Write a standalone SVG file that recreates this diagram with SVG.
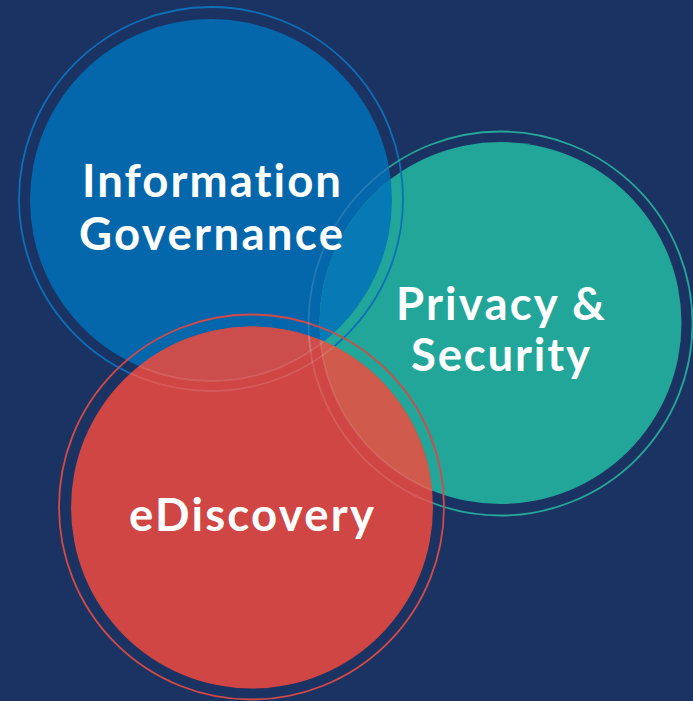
<svg xmlns="http://www.w3.org/2000/svg" width="693" height="701" viewBox="0 0 693 701">
  <defs>
    <clipPath id="clipBlue"><circle cx="211" cy="200" r="181"/></clipPath>
    <clipPath id="clipGreen"><circle cx="500.5" cy="323" r="181"/></clipPath>
    <clipPath id="clipRed"><circle cx="252" cy="507.5" r="181"/></clipPath>
    <style>
      .label { font-family: "Lato", "Open Sans", "Liberation Sans", sans-serif; font-weight: 700; font-size: 45.5px; fill: #ffffff; text-anchor: middle; font-variant-ligatures: none; font-feature-settings: "liga" 0; }
      .ring { fill: none; stroke-width: 1.8; }
      .faint { fill: none; stroke: #ffffff; stroke-opacity: 0.12; stroke-width: 1.8; }
    </style>
  </defs>

  <rect width="693" height="701" fill="#1b3363"/>

  <!-- rings that sit beneath the discs -->
  <g id="rings-under">
    <circle class="ring" cx="211" cy="199" r="192" stroke="#0c6fb8"/>
    <circle class="ring" cx="500.5" cy="323.5" r="192" stroke="#25a79a"/>
  </g>

  <g id="information-governance">
    <circle cx="211" cy="200" r="181" fill="#0567ab"/>
  </g>

  <g id="privacy-security">
    <circle cx="500.5" cy="323" r="181" fill="#22a699"/>
    <!-- blue ring showing over the green disc -->
    <circle class="ring" cx="211" cy="199" r="192" stroke="#0c6fb8" clip-path="url(#clipGreen)"/>
    <!-- blue / green overlap -->
    <circle cx="500.5" cy="323" r="181" fill="#0779b5" clip-path="url(#clipBlue)"/>
  </g>

  <g id="ediscovery">
    <circle cx="252" cy="507.5" r="181" fill="#cf4644"/>
    <circle cx="211" cy="200" r="181" fill="#cb4e4c" clip-path="url(#clipRed)"/>
    <circle cx="500.5" cy="323" r="181" fill="#d05a4c" clip-path="url(#clipRed)"/>
    <circle class="ring" cx="251.5" cy="507" r="192.5" stroke="#d44a46"/>
  </g>

  <!-- rings seen faintly through the discs that cover them -->
  <g id="rings-faint">
    <circle class="faint" cx="211" cy="199" r="192" clip-path="url(#clipRed)"/>
    <circle class="faint" cx="500.5" cy="323.5" r="192" clip-path="url(#clipBlue)"/>
    <circle class="faint" cx="500.5" cy="323.5" r="192" clip-path="url(#clipRed)"/>
    <circle class="faint" cx="211" cy="200" r="181" clip-path="url(#clipRed)" stroke-opacity="0.05"/>
    <circle class="faint" cx="500.5" cy="323" r="181" clip-path="url(#clipRed)" stroke-opacity="0.05"/>
  </g>

  <g id="labels">
    <text class="label" x="211.5" y="197" textLength="259" lengthAdjust="spacing">Information</text>
    <text class="label" x="211" y="250" textLength="264" lengthAdjust="spacing">Governance</text>
    <text class="label" x="500.5" y="320" textLength="209" lengthAdjust="spacing">Privacy &amp;</text>
    <text class="label" x="500.5" y="371" textLength="179" lengthAdjust="spacing">Security</text>
    <text class="label" x="251.5" y="531" textLength="245" lengthAdjust="spacing">eDiscovery</text>
  </g>
</svg>
